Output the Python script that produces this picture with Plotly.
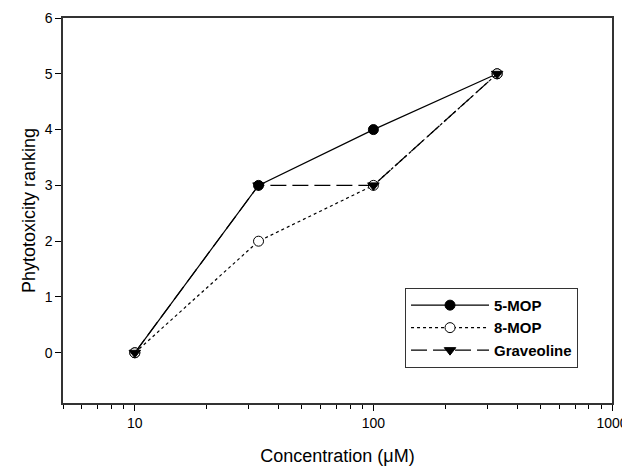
import plotly.graph_objects as go

conc = [10, 33, 100, 330]
mop5 = [0, 3, 4, 5]
mop8 = [0, 2, 3, 5]
graveoline = [0, 3, 3, 5]
x_ticks = [10, 100, 1000]
y_ticks = [0, 1, 2, 3, 4, 5, 6]

fig = go.Figure()
fig.add_trace(go.Scatter(x=conc, y=mop5, name="5-MOP", mode="lines+markers",
                         line=dict(color="black", width=1.2, dash="solid"),
                         marker=dict(symbol="circle", size=10, color="black",
                                     line=dict(color="black", width=1))))
fig.add_trace(go.Scatter(x=conc, y=mop8, name="8-MOP", mode="lines+markers",
                         line=dict(color="black", width=1.2, dash="dot"),
                         marker=dict(symbol="circle", size=10, color="white",
                                     line=dict(color="black", width=1))))
fig.add_trace(go.Scatter(x=conc, y=graveoline, name="Graveoline", mode="lines+markers",
                         line=dict(color="black", width=1.2, dash="16px,6px"),
                         marker=dict(symbol="triangle-down", size=10, color="black",
                                     line=dict(color="black", width=1))))

# page body has an 8px margin, so the figure is sized to fit the 630x468 window
fig.update_layout(
    width=622, height=460,
    margin=dict(l=55, r=18, t=10, b=65, autoexpand=False),
    paper_bgcolor="white", plot_bgcolor="white",
    font=dict(family="Liberation Sans, Arial, sans-serif", size=14, color="black"),
    showlegend=True,
    legend=dict(x=0.623, y=0.299, xanchor="left", yanchor="top",
                bordercolor="#333333", borderwidth=1, bgcolor="white",
                font=dict(size=15, family="Liberation Sans, Arial, sans-serif", weight="bold"),
                itemwidth=78, tracegroupgap=0),
)
fig.update_xaxes(type="log", range=[0.69897, 3], tickvals=x_ticks,
                 ticktext=[str(v) for v in x_ticks], automargin=False,
                 ticks="outside", ticklen=6, tickcolor="black", tickwidth=1,
                 showline=True, linecolor="#333333", linewidth=1.5, mirror=True,
                 showgrid=False, zeroline=False,
                 minor=dict(ticks="outside", ticklen=4, dtick="D1", tickcolor="black",
                            showgrid=False),
                 title=dict(text="Concentration (\u03bcM)", font=dict(size=18), standoff=20),
                 tickfont=dict(size=14))
fig.update_yaxes(range=[-0.9, 6], tickvals=y_ticks, automargin=False,
                 ticks="outside", ticklen=6, tickcolor="black", tickwidth=1,
                 showline=True, linecolor="#333333", linewidth=1.5, mirror=True,
                 showgrid=False, zeroline=False,
                 title=dict(text="Phytotoxicity ranking", font=dict(size=18), standoff=4),
                 tickfont=dict(size=14))

fig.write_html("out.html")
